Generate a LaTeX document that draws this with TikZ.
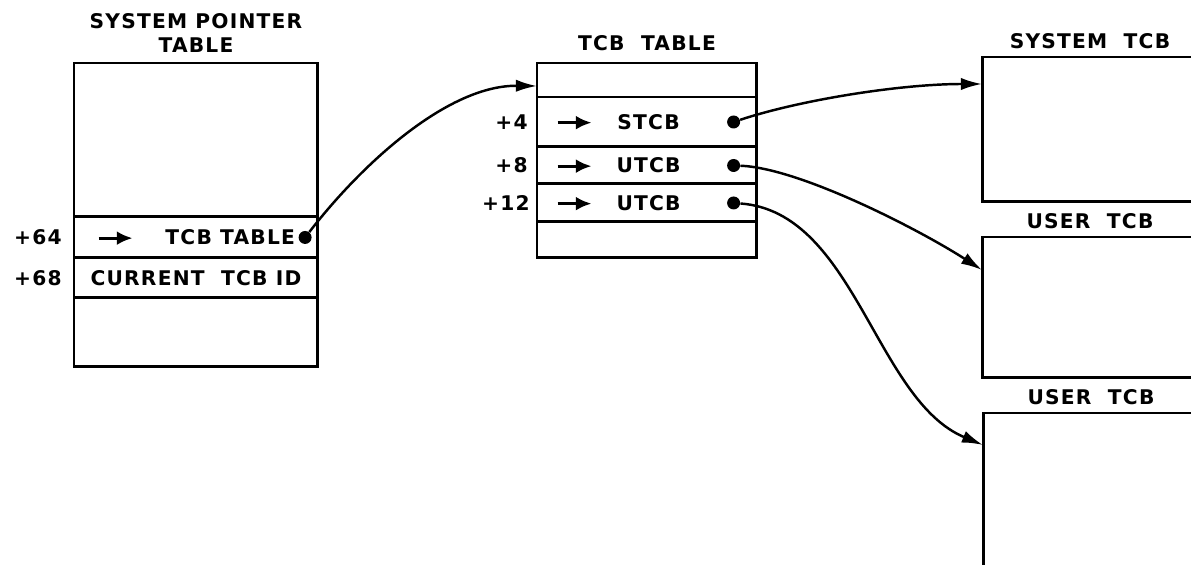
\documentclass[tikz,border=0pt]{standalone}
\usepackage{fontspec}
\newfontfamily\leroy{DejaVu Sans}[LetterSpace=6]
\usetikzlibrary{arrows.meta,positioning}

\newcommand{\ptr}{\tikz[baseline=-0.6ex]\draw[line width=1.8pt,-{Latex[length=9pt,width=8pt]}] (0pt,0pt) -- (0.68cm,0pt);}

\begin{document}
\begin{tikzpicture}[
  x=0.02cm, y=-0.02cm,
  every node/.style={font=\leroy\bfseries\fontsize{11.5}{14}\selectfont},
  cell/.style={draw,line width=1.7pt,outer sep=0pt,inner sep=0pt},
  spt/.style={cell,minimum width=4.88cm},
  tcb/.style={cell,minimum width=4.4cm},
  tcbox/.style={cell,minimum width=4.32cm,anchor=north west},
  title/.style={align=center,inner sep=0pt},
  offset/.style={inner sep=0pt},
  dot/.style={circle,fill,inner sep=0pt,minimum size=0.26cm},
  arr/.style={-{Latex[length=12pt,width=7pt]},line width=1.4pt}
]
  \clip (0,0) rectangle (1191,565);

  \node[spt,minimum height=3.08cm,anchor=north west] (spttop) at (74,63) {};
  \node[spt,minimum height=0.82cm,below=0pt of spttop] (spt64) {\makebox[3.96cm]{\ptr\hfill TCB TABLE}};
  \node[spt,minimum height=0.8cm,below=0pt of spt64] (spt68) {CURRENT\ \ TCB ID};
  \node[spt,minimum height=1.38cm,below=0pt of spt68] (sptbot) {};
  \node[title,above=0.2cm of spttop] (spttitle) {SYSTEM POINTER\\TABLE};
  \node[offset,left=0.24cm of spt64] (off64) {+64};
  \node[offset,left=0.24cm of spt68] (off68) {+68};
  \node[dot,left=0.12cm of spt64.east] (tabledot) {};

  \node[tcb,minimum height=0.68cm,anchor=north west] (tcbtop) at (537,63) {};
  \node[tcb,minimum height=1.0cm,below=0pt of tcbtop] (tcb4) {\makebox[3.64cm]{\ptr\hfill STCB\hfill\hspace{0.68cm}}};
  \node[tcb,minimum height=0.74cm,below=0pt of tcb4] (tcb8) {\makebox[3.64cm]{\ptr\hfill UTCB\hfill\hspace{0.68cm}}};
  \node[tcb,minimum height=0.76cm,below=0pt of tcb8] (tcb12) {\makebox[3.64cm]{\ptr\hfill UTCB\hfill\hspace{0.68cm}}};
  \node[tcb,minimum height=0.72cm,below=0pt of tcb12] (tcbbot) {};
  \node[title,above=0.24cm of tcbtop] (tcbtitle) {TCB\ \ TABLE};
  \node[offset,left=0.18cm of tcb4] (off4) {+4};
  \node[offset,left=0.18cm of tcb8] (off8) {+8};
  \node[offset,left=0.14cm of tcb12] (off12) {+12};
  \node[dot,left=0.33cm of tcb4.east] (stcbdot) {};
  \node[dot,left=0.33cm of tcb8.east] (utcbdot) {};
  \node[dot,left=0.33cm of tcb12.east] (utcbdotb) {};

  \node[tcbox,minimum height=2.9cm] (systcb) at (982,57) {};
  \node[title,above=0.15cm of systcb] (systitle) {SYSTEM\ \ TCB};
  \node[tcbox,minimum height=2.82cm] (usertcb) at (982,237) {};
  \node[title,above=0.15cm of usertcb] (usertitle) {USER\ \ TCB};
  \node[tcbox,minimum height=3.8cm] (usertcbb) at (983,413) {};
  \node[title,above=0.15cm of usertcbb] (usertitleb) {USER\ \ TCB};

  \draw[arr] (tabledot) .. controls (365,160) and (450,85) .. ([yshift=-0.12cm]tcbtop.west);
  \draw[arr] (stcbdot) .. controls (800,100) and (900,84) .. ([yshift=-0.54cm]systcb.north west);
  \draw[arr] (utcbdot) .. controls (800,168) and (920,230) .. ([yshift=-0.66cm]usertcb.north west);
  \draw[arr] (utcbdotb) .. controls (855,212) and (875,400) .. ([yshift=-0.64cm]usertcbb.north west);
\end{tikzpicture}
\end{document}
